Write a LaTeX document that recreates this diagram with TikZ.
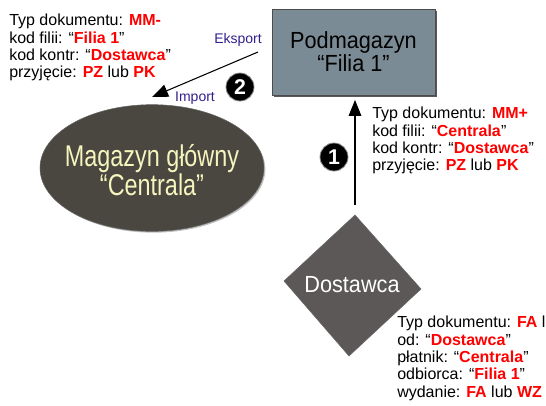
\documentclass[tikz,border=0pt]{standalone}
\usepackage{fontspec}
\setmainfont{Liberation Sans}
\newfontfamily\boxfont[FakeStretch=0.93]{Liberation Sans}
\newfontfamily\ellfont[FakeStretch=0.78]{Liberation Sans}
\usetikzlibrary{arrows.meta,shapes.geometric,shadows}
\definecolor{boxfill}{RGB}{123,139,149}
\definecolor{ellfill}{RGB}{74,70,64}
\definecolor{elltext}{RGB}{245,245,190}
\definecolor{diafill}{RGB}{92,88,88}
\definecolor{indigo}{RGB}{51,30,140}
\newcommand{\rd}[1]{\textcolor{red}{\textbf{#1}}}
\tikzset{
  ann/.style={anchor=north west, align=left, inner sep=0pt, font=\fontsize{12}{13}\selectfont},
  arr/.style={draw=black, line width=0.8pt, -{Triangle[length=12pt,width=9.5pt]}},
  num/.style={circle, fill=black, draw=black!45, line width=0.6pt, text=white, font=\bfseries\fontsize{16}{16}\selectfont, minimum size=21pt, inner sep=0pt},
  lbl/.style={text=indigo, inner sep=0pt, font=\fontsize{10.5}{10.5}\selectfont},
}
\begin{document}
\begin{tikzpicture}[x=0.75pt,y=-0.75pt]
\useasboundingbox (0,0) rectangle (546,405);
\clip (0,0) rectangle (546,405);
% Podmagazyn box
\node[draw=black!70, fill=boxfill, minimum width=122.25pt, minimum height=64.5pt,
  align=center, font=\boxfont\fontsize{17.5}{14}\selectfont,
  drop shadow={shadow xshift=1.2pt, shadow yshift=-1.2pt, fill=black!65, opacity=1}] (box) at (353.5,52) {Podmagazyn\\“Filia 1”};
% Magazyn glowny ellipse
\node[ellipse, draw=black!60, fill=ellfill, minimum width=168pt, minimum height=95pt, inner sep=0pt,
  drop shadow={shadow xshift=1pt, shadow yshift=-1pt, fill=black!25, opacity=1}] (ell) at (152,168) {};
\node[text=elltext, align=center, inner sep=0pt, font=\ellfont\fontsize{22.5}{20}\selectfont] (elltxt) at (152,170) {Magazyn główny\\“Centrala”};
% Dostawca diamond
\filldraw[fill=diafill, draw=black!60] (355,215) -- (421,289) -- (349,356) -- (284,281) -- cycle;
\node[text=white, inner sep=0pt, font=\boxfont\fontsize{17.5}{17.5}\selectfont] (dost) at (352,285) {Dostawca};
% connectors
\coordinate (a1s) at (355,205);
\draw[arr, shorten >=3.5pt] (a1s) -- (a1s |- box.south);
\coordinate (e2s) at (258,52);
\coordinate (e2e) at (152,97);
\draw[arr] (e2s) -- (e2e);
% labels
\node[lbl] (eks) at (238,40) {Eksport};
\node[lbl] (imp) at (195,98) {Import};
\node[num] (n1) at (334,157) {1};
\node[num] (n2) at (240,87) {2};
% annotations
\node[ann] (t1) at (9,14) {Typ dokumentu: \rd{MM-}\\kod filii: “\rd{Filia 1}”\\kod kontr: “\rd{Dostawca}”\\przyjęcie: \rd{PZ} lub \rd{PK}};
\node[ann] (t2) at (372,107) {Typ dokumentu: \rd{MM+}\\kod filii: “\rd{Centrala}”\\kod kontr: “\rd{Dostawca}”\\przyjęcie: \rd{PZ} lub \rd{PK}};
\node[ann] (t3) at (397,316) {Typ dokumentu: \rd{FA} l\\od: “\rd{Dostawca}”\\płatnik: “\rd{Centrala}”\\odbiorca: “\rd{Filia 1}”\\wydanie: \rd{FA} lub \rd{WZ}};
\end{tikzpicture}
\end{document}
